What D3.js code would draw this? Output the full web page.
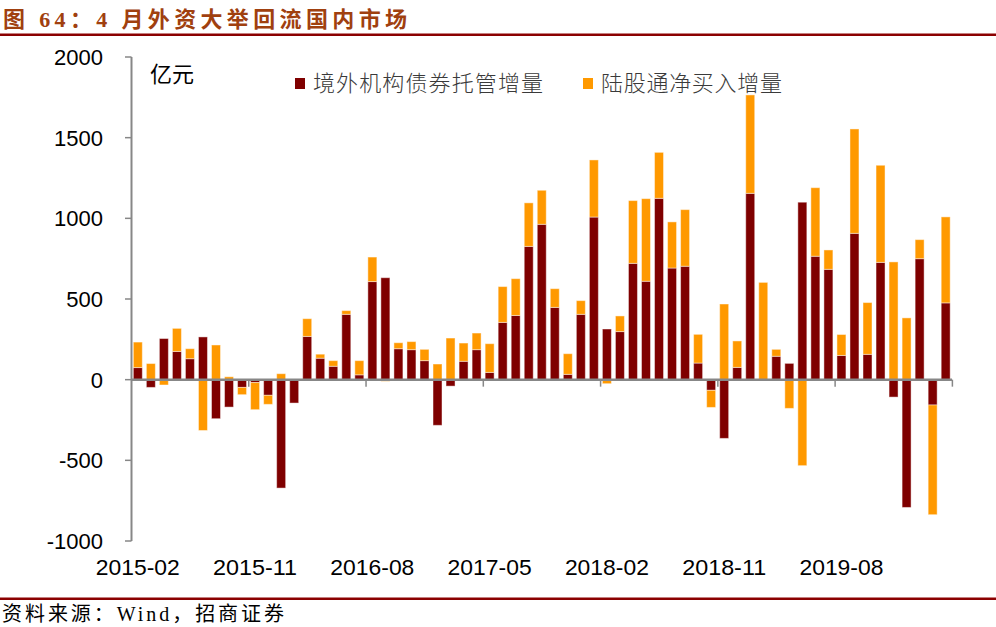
<!DOCTYPE html>
<html><head><meta charset="utf-8">
<script src="https://cdn.jsdelivr.net/npm/d3@7/dist/d3.min.js"></script>
<style>
html,body{margin:0;padding:0;background:#fff;}
svg{display:block;}
</style></head>
<body><svg id="c" width="996" height="627"></svg>
<script>
const categories = [
"2015-02","2015-03","2015-04","2015-05","2015-06","2015-07","2015-08","2015-09","2015-10","2015-11","2015-12",
"2016-01","2016-02","2016-03","2016-04","2016-05","2016-06","2016-07","2016-08","2016-09","2016-10","2016-11","2016-12",
"2017-01","2017-02","2017-03","2017-04","2017-05","2017-06","2017-07","2017-08","2017-09","2017-10","2017-11","2017-12",
"2018-01","2018-02","2018-03","2018-04","2018-05","2018-06","2018-07","2018-08","2018-09","2018-10","2018-11","2018-12",
"2019-01","2019-02","2019-03","2019-04","2019-05","2019-06","2019-07","2019-08","2019-09","2019-10","2019-11","2019-12",
"2020-01","2020-02","2020-03","2020-04"];
const bondCustody = [75,-48,255,175,130,265,-242,-170,-48,-18,-97,-672,-145,268,133,83,405,30,608,632,192,186,118,-283,-40,114,186,45,355,398,826,963,448,33,405,1008,314,298,721,610,1124,692,703,103,-66,-364,76,1155,0,145,101,1100,765,684,150,907,157,727,-108,-792,750,-157,476];
const stockConnect = [158,100,-33,143,62,-315,215,18,-45,-168,-56,37,0,110,25,35,23,88,152,-10,37,50,70,97,258,113,103,178,222,228,270,211,116,128,85,354,-25,97,389,512,285,286,351,178,-106,469,164,610,603,43,-178,-533,425,120,130,647,321,602,730,383,118,-680,533];
const seriesNames = ["境外机构债券托管增量","陆股通净买入增量"];
const seriesColors = ["#7F0000","#FF9900"];
const yTicks = [-1000,-500,0,500,1000,1500,2000];
const xLabelEvery = 9;
const titleText = "图 64：4 月外资大举回流国内市场";
const unitText = "亿元";
const sourceText = "资料来源：Wind，招商证券";

const svg = d3.select("#c");
const x = d3.scaleBand().domain(categories).range([131.5, 952]).paddingInner(0.31).paddingOuter(0.14);
const y = d3.scaleLinear().domain([-1000, 2000]).range([541, 57]);

// title
svg.append("text").attr("x",3).attr("y",27).text(titleText)
  .attr("font-family","'Liberation Serif','Noto Sans CJK SC',serif").attr("font-weight","bold")
  .attr("font-size",22).attr("fill","#A0400F")
  .attr("textLength",404).attr("lengthAdjust","spacing");
svg.append("rect").attr("x",0).attr("y",33.5).attr("width",996).attr("height",2.5).attr("fill","#8B0000");
svg.append("rect").attr("x",0).attr("y",597.5).attr("width",996).attr("height",2.5).attr("fill","#8B0000");
svg.append("text").attr("x",2).attr("y",621).text(sourceText)
  .attr("font-family","'Liberation Serif','Noto Sans CJK SC',serif")
  .attr("font-size",20).attr("fill","#000")
  .attr("textLength",282).attr("lengthAdjust","spacing");

// stacked data
const rows = categories.map((c,i)=>({cat:c, s0:bondCustody[i], s1:stockConnect[i]}));
const stack = d3.stack().keys(["s0","s1"]).offset(d3.stackOffsetDiverging);
const layers = stack(rows);

const g = svg.append("g");
layers.forEach((layer,li)=>{
  g.selectAll(null).data(layer).enter().append("rect")
    .attr("x", d=>x(d.data.cat))
    .attr("width", x.bandwidth())
    .attr("y", d=>y(Math.max(d[0],d[1])))
    .attr("height", d=>Math.abs(y(d[0])-y(d[1])))
    .attr("fill", seriesColors[li])
    .attr("stroke","rgba(255,255,255,0.45)").attr("stroke-width",1);
});

// y axis
const axisColor = "#878787";
svg.append("line").attr("x1",131.5).attr("x2",131.5).attr("y1",y(2000)).attr("y2",y(-1000))
  .attr("stroke",axisColor).attr("stroke-width",2);
yTicks.forEach(t=>{
  svg.append("line").attr("x1",125).attr("x2",131.5).attr("y1",y(t)).attr("y2",y(t))
    .attr("stroke",axisColor).attr("stroke-width",1.5);
  svg.append("text").attr("x",103).attr("y",y(t)).attr("dy","0.36em").attr("text-anchor","end")
    .text(t).attr("font-family","'Liberation Sans',Arial,sans-serif").attr("font-size",22).attr("fill","#000");
});

// x axis at zero
svg.append("line").attr("x1",131.5).attr("x2",952).attr("y1",y(0)).attr("y2",y(0))
  .attr("stroke",axisColor).attr("stroke-width",2.5);
const step = x.step();
for(let i=xLabelEvery;i<=categories.length;i+=xLabelEvery){
  const xp = x.range()[0] + i*step;
  svg.append("line").attr("x1",xp).attr("x2",xp).attr("y1",y(0)).attr("y2",y(0)+7)
    .attr("stroke",axisColor).attr("stroke-width",1.5);
}
categories.forEach((c,i)=>{
  if(i%xLabelEvery===0){
    svg.append("text").attr("x",x(c)+x.bandwidth()/2).attr("y",575).attr("text-anchor","middle")
      .text(c).attr("font-family","'Liberation Sans',Arial,sans-serif").attr("font-size",22)
      .attr("textLength",84).attr("lengthAdjust","spacingAndGlyphs").attr("fill","#000");
  }
});

// unit
svg.append("text").attr("x",150).attr("y",82).text(unitText)
  .attr("font-family","'Noto Sans CJK SC',sans-serif").attr("font-size",22).attr("fill","#000");

// legend
const legX = [295, 583];
const legLen = [230, 181];
seriesNames.forEach((n,i)=>{
  svg.append("rect").attr("x",legX[i]).attr("y",78).attr("width",10).attr("height",11).attr("fill",seriesColors[i]);
  svg.append("text").attr("x",legX[i]+18).attr("y",91).text(n)
    .attr("font-family","'Noto Sans CJK SC',sans-serif").attr("font-size",22).attr("font-weight",300).attr("fill","#3a3a3a")
    .attr("textLength",legLen[i]).attr("lengthAdjust","spacing");
});
</script></body></html>
